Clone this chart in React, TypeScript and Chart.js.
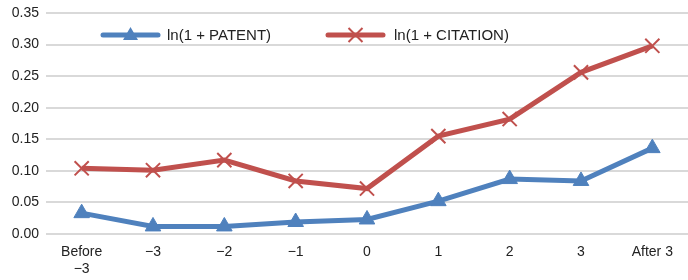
import React, { useEffect, useRef } from "react";
import { Chart, registerables } from "chart.js";

Chart.register(...registerables);

const categories: (string | string[])[] = [["Before", "\u22123"], "\u22123", "\u22122", "\u22121", "0", "1", "2", "3", "After 3"];
const patentValues = [0.033, 0.012, 0.012, 0.019, 0.023, 0.052, 0.087, 0.084, 0.136];
const citationValues = [0.104, 0.101, 0.117, 0.084, 0.072, 0.155, 0.182, 0.256, 0.298];
const seriesNames = ["ln(1 + PATENT)", "ln(1 + CITATION)"];
const yTicks = [0, 0.05, 0.1, 0.15, 0.2, 0.25, 0.3, 0.35];

const BLUE = "#4F81BD";
const RED = "#C0504D";
const FONT = "'Liberation Sans', Arial, Helvetica, sans-serif";

const legendPlugin = {
  id: "customLegend",
  afterDraw(chart: any) {
    const ctx = chart.ctx;
    const y = 35;
    const items = [
      { x0: 103, x1: 158, tx: 167, color: BLUE, style: "triangle", text: seriesNames[0] },
      { x0: 328, x1: 383, tx: 394, color: RED, style: "crossRot", text: seriesNames[1] },
    ];
    ctx.save();
    for (const it of items) {
      ctx.strokeStyle = it.color;
      ctx.lineWidth = 5;
      ctx.lineCap = "round";
      ctx.beginPath();
      ctx.moveTo(it.x0, y);
      ctx.lineTo(it.x1, y);
      ctx.stroke();
      ctx.lineCap = "butt";
      const cx = (it.x0 + it.x1) / 2;
      if (it.style === "triangle") {
        ctx.fillStyle = it.color;
        ctx.beginPath();
        ctx.moveTo(cx, y - 8);
        ctx.lineTo(cx + 7.5, y + 5);
        ctx.lineTo(cx - 7.5, y + 5);
        ctx.closePath();
        ctx.fill();
      } else {
        ctx.lineWidth = 2;
        ctx.beginPath();
        ctx.moveTo(cx - 7, y - 7);
        ctx.lineTo(cx + 7, y + 7);
        ctx.moveTo(cx + 7, y - 7);
        ctx.lineTo(cx - 7, y + 7);
        ctx.stroke();
      }
      ctx.fillStyle = "#222";
      ctx.font = `15px ${FONT}`;
      ctx.textBaseline = "middle";
      ctx.textAlign = "left";
      ctx.fillText(it.text, it.tx, y + 1);
    }
    ctx.restore();
  },
};

export default function App() {
  const ref = useRef<HTMLCanvasElement>(null);
  useEffect(() => {
    if (!ref.current) return;
    const chart = new Chart(ref.current, {
      type: "line",
      data: {
        labels: categories,
        datasets: [
          {
            label: seriesNames[0],
            data: patentValues,
            borderColor: BLUE,
            backgroundColor: BLUE,
            borderWidth: 5,
            pointStyle: "triangle",
            pointRadius: 9,
            pointBorderWidth: 1,
            pointBackgroundColor: BLUE,
            pointBorderColor: BLUE,
            tension: 0,
            clip: false,
          },
          {
            label: seriesNames[1],
            data: citationValues,
            borderColor: RED,
            backgroundColor: RED,
            borderWidth: 5,
            pointStyle: "crossRot",
            pointRadius: 10,
            pointBorderWidth: 2,
            pointBorderColor: RED,
            tension: 0,
            clip: false,
          },
        ],
      },
      options: {
        animation: false,
        responsive: false,
        maintainAspectRatio: false,
        layout: { autoPadding: false, padding: { top: 13, right: 0, left: 0, bottom: 0 } },
        plugins: { legend: { display: false }, tooltip: { enabled: false } },
        scales: {
          x: {
            type: "category",
            offset: true,
            grid: { display: false },
            border: { display: false },
            ticks: {
              color: "#222",
              font: { family: FONT, size: 14 },
              padding: 2,
              maxRotation: 0,
              autoSkip: false,
            },
            afterFit(scale: any) {
              scale.height = 46;
              scale.paddingLeft = 0;
              scale.paddingRight = 0;
            },
          },
          y: {
            min: 0,
            max: 0.35,
            afterBuildTicks(scale: any) {
              scale.ticks = yTicks.map((v) => ({ value: v }));
            },
            grid: { color: "#D9D9D9", lineWidth: 2, drawTicks: false },
            border: { display: false },
            ticks: {
              color: "#222",
              font: { family: FONT, size: 14 },
              padding: 7,
              callback: (v: any) => Number(v).toFixed(2),
            },
            afterFit(scale: any) {
              scale.width = 46;
              scale.paddingTop = 0;
              scale.paddingBottom = 0;
            },
          },
        },
      },
      plugins: [legendPlugin],
    } as any);
    return () => chart.destroy();
  }, []);
  return (
    <div style={{ position: "absolute", left: 0, top: 0, width: 688, height: 280, background: "#fff" }}>
      <canvas ref={ref} width={688} height={280} style={{ width: 688, height: 280 }} />
    </div>
  );
}
